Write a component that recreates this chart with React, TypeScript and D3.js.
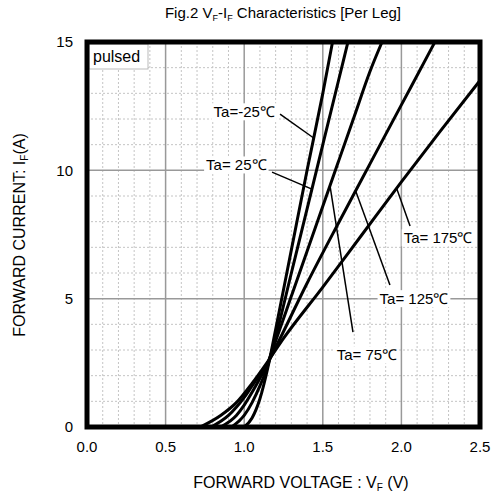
import React, { useEffect, useRef } from 'react';
import * as d3 from 'd3';

// forward voltage (V) / forward current (A), per case temperature
const curveM25: [number, number][] = [[1.0, 0], [1.05, 0.35], [1.1, 1.1], [1.15, 2.3], [1.2, 3.8], [1.3, 6.9], [1.4, 10.0], [1.5, 13.0], [1.562, 15]];
const curve25: [number, number][] = [[0.92, 0], [1.0, 0.45], [1.05, 0.95], [1.1, 1.6], [1.15, 2.4], [1.2, 3.5], [1.3, 6.0], [1.4, 8.5], [1.5, 11.0], [1.6, 13.5], [1.66, 15]];
const curve75: [number, number][] = [[0.85, 0], [0.95, 0.45], [1.0, 0.85], [1.05, 1.35], [1.1, 1.9], [1.15, 2.5], [1.2, 3.35], [1.3, 5.1], [1.4, 6.85], [1.5, 8.6], [1.6, 10.35], [1.7, 12.1], [1.8, 13.85], [1.877, 15]];
const curve125: [number, number][] = [[0.79, 0], [0.9, 0.45], [1.0, 1.15], [1.05, 1.6], [1.1, 2.05], [1.15, 2.5], [1.2, 3.1], [1.4, 5.6], [1.6, 7.95], [1.8, 10.25], [2.0, 12.55], [2.2, 14.85], [2.213, 15]];
const curve175: [number, number][] = [[0.72, 0], [0.85, 0.45], [0.95, 0.95], [1.05, 1.7], [1.15, 2.55], [1.25, 3.45], [1.5, 5.45], [1.75, 7.5], [2.0, 9.55], [2.25, 11.55], [2.5, 13.5]];

const seriesNames = ['Ta=-25℃', 'Ta= 25℃', 'Ta= 75℃', 'Ta= 125℃', 'Ta= 175℃'];
const xTicks = [0, 0.5, 1.0, 1.5, 2.0, 2.5];
const yTicks = [0, 5, 10, 15];

const FONT = '"Liberation Sans", Arial, sans-serif';

// voltage where a curve reaches a given current (linear between read points)
const voltageAt = (pts: [number, number][], i: number) => {
  for (let k = 1; k < pts.length; k++) {
    const [v0, i0] = pts[k - 1];
    const [v1, i1] = pts[k];
    if (i >= i0 && i <= i1) return v0 + ((i - i0) / (i1 - i0)) * (v1 - v0);
  }
  return pts[pts.length - 1][0];
};

const Chart = () => {
  const svgRef = useRef<SVGSVGElement>(null);

  useEffect(() => {
    const width = 492;
    const height = 500;
    const left = 87, right = 480, top = 42, bottom = 427;

    d3.select(svgRef.current).selectAll('*').remove();
    const svg = d3.select(svgRef.current).attr('width', width).attr('height', height);

    const x = d3.scaleLinear().domain([0, 2.5]).range([left, right]);
    const y = d3.scaleLinear().domain([0, 15]).range([bottom, top]);

    svg.append('rect').attr('width', width).attr('height', height).attr('fill', '#fff');

    // grid: dashed every 0.1 V / 1 A, solid every 0.5 V / 5 A
    const grid = svg.append('g');
    const minorX = d3.range(1, 25).map(d => d / 10).filter(d => Math.abs(d * 2 - Math.round(d * 2)) > 1e-6);
    const minorY = d3.range(1, 15).filter(d => d % 5 !== 0);
    grid.selectAll('.mx').data(minorX).enter().append('line')
      .attr('x1', d => x(d)).attr('x2', d => x(d)).attr('y1', top).attr('y2', bottom)
      .attr('stroke', '#c4c4c4').attr('stroke-width', 1).attr('stroke-dasharray', '2,2');
    grid.selectAll('.my').data(minorY).enter().append('line')
      .attr('x1', left).attr('x2', right).attr('y1', d => y(d)).attr('y2', d => y(d))
      .attr('stroke', '#c4c4c4').attr('stroke-width', 1).attr('stroke-dasharray', '2,2');
    grid.selectAll('.Mx').data(xTicks.slice(1, -1)).enter().append('line')
      .attr('x1', d => x(d)).attr('x2', d => x(d)).attr('y1', top).attr('y2', bottom)
      .attr('stroke', '#999').attr('stroke-width', 1.5);
    grid.selectAll('.My').data(yTicks.slice(1, -1)).enter().append('line')
      .attr('x1', left).attr('x2', right).attr('y1', d => y(d)).attr('y2', d => y(d))
      .attr('stroke', '#999').attr('stroke-width', 1.5);

    // curves
    svg.append('clipPath').attr('id', 'plotClip').append('rect')
      .attr('x', left).attr('y', top).attr('width', right - left).attr('height', bottom - top);
    const line = d3.line<[number, number]>()
      .x(d => x(d[0])).y(d => y(d[1]))
      .curve(d3.curveMonotoneX);
    const curves = [curveM25, curve25, curve75, curve125, curve175];
    svg.append('g').attr('clip-path', 'url(#plotClip)')
      .selectAll('path').data(curves).enter().append('path')
      .attr('d', d => line(d))
      .attr('fill', 'none').attr('stroke', '#000').attr('stroke-width', 3);

    // annotations: label centre, leader start (V, I), current where the leader meets its curve
    const notes = [
      { c: 0, tx: 1.0, ty: 12.27, sx: 1.228, sy: 12.19, ei: 11.26 },
      { c: 1, tx: 0.95, ty: 10.2, sx: 1.177, sy: 9.93, ei: 9.27 },
      { c: 2, tx: 1.781, ty: 2.8, sx: 1.692, sy: 3.7, ei: 9.4 },
      { c: 3, tx: 2.08, ty: 4.99, sx: 1.927, sy: 5.53, ei: 9.2 },
      { c: 4, tx: 2.233, ty: 7.36, sx: 2.055, sy: 7.83, ei: 9.3 },
    ];
    const ann = svg.append('g');
    notes.forEach(n => {
      ann.append('line')
        .attr('x1', x(n.sx)).attr('y1', y(n.sy))
        .attr('x2', x(voltageAt(curves[n.c], n.ei))).attr('y2', y(n.ei))
        .attr('stroke', '#000').attr('stroke-width', 1.5);
    });
    notes.forEach(n => {
      const g = ann.append('g');
      const t = g.append('text')
        .attr('x', x(n.tx)).attr('y', y(n.ty))
        .attr('text-anchor', 'middle').attr('dy', '0.35em')
        .attr('font-family', FONT).attr('font-size', 15)
        .text(seriesNames[n.c]);
      const bb = (t.node() as SVGTextElement).getBBox();
      g.insert('rect', 'text')
        .attr('x', bb.x - 2).attr('y', bb.y).attr('width', bb.width + 4).attr('height', bb.height)
        .attr('fill', '#fff');
    });

    // pulsed box
    svg.append('rect').attr('x', 89).attr('y', 44).attr('width', 59).attr('height', 25)
      .attr('fill', '#fff').attr('stroke', '#bbb').attr('stroke-width', 1);
    svg.append('text').attr('x', 93).attr('y', 62)
      .attr('font-family', FONT).attr('font-size', 16).text('pulsed');

    // frame
    svg.append('rect').attr('x', left).attr('y', top).attr('width', right - left).attr('height', bottom - top)
      .attr('fill', 'none').attr('stroke', '#000').attr('stroke-width', 5);

    // tick labels
    svg.selectAll('.xt').data(xTicks).enter().append('text')
      .attr('x', d => x(d)).attr('y', 452).attr('text-anchor', 'middle')
      .attr('font-family', FONT).attr('font-size', 15)
      .text(d => d3.format('.1f')(d));
    svg.selectAll('.yt').data(yTicks).enter().append('text')
      .attr('x', 73).attr('y', d => y(d)).attr('dy', '0.35em').attr('text-anchor', 'end')
      .attr('font-family', FONT).attr('font-size', 15)
      .text(d => d);

    // title
    const title = svg.append('text').attr('x', 283).attr('y', 18).attr('text-anchor', 'middle')
      .attr('font-family', FONT).attr('font-size', 15);
    title.append('tspan').text('Fig.2 V');
    title.append('tspan').attr('font-size', 9).attr('dy', 3).text('F');
    title.append('tspan').attr('dy', -3).text('-I');
    title.append('tspan').attr('font-size', 9).attr('dy', 3).text('F');
    title.append('tspan').attr('dy', -3).text(' Characteristics [Per Leg]');

    // axis titles
    const xl = svg.append('text').attr('x', 301).attr('y', 488).attr('text-anchor', 'middle')
      .attr('font-family', FONT).attr('font-size', 16);
    xl.append('tspan').text('FORWARD VOLTAGE : V');
    xl.append('tspan').attr('font-size', 10).attr('dy', 3).text('F');
    xl.append('tspan').attr('dy', -3).text(' (V)');

    const yl = svg.append('text').attr('transform', 'translate(25,235) rotate(-90)').attr('text-anchor', 'middle')
      .attr('font-family', FONT).attr('font-size', 16);
    yl.append('tspan').text('FORWARD CURRENT: I');
    yl.append('tspan').attr('font-size', 10).attr('dy', 3).text('F');
    yl.append('tspan').attr('dy', -3).text('(A)');
  }, []);

  return <svg ref={svgRef}></svg>;
};

export default function App() {
  return (
    <div style={{ position: 'absolute', left: 0, top: 0 }}>
      <Chart />
    </div>
  );
}
